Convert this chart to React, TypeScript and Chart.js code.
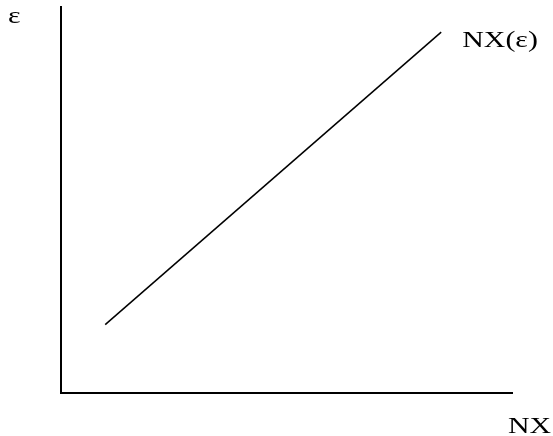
import React, { useEffect, useRef } from "react";
import { Chart, registerables } from "chart.js";

Chart.register(...registerables);

// Net exports as a function of the real exchange rate
const nxValues: number[] = [9.8, 84.3];
const epsValues: number[] = [17.7, 93.5];
const curveLabel = "NX(ε)";
const yAxisLabel = "ε";
const xAxisLabel = "NX";

function stretchedText(ctx: any, text: string, x: number, y: number) {
  ctx.save();
  ctx.translate(x, y);
  ctx.scale(1.3, 1);
  ctx.fillText(text, 0, 0);
  ctx.restore();
}

const labelsPlugin = {
  id: "textLabels",
  afterDraw(chart: any) {
    const ctx = chart.ctx;
    const area = chart.chartArea;
    const xs = chart.scales.x;
    const ys = chart.scales.y;
    ctx.save();
    ctx.fillStyle = "#000";
    ctx.font = '23px "Liberation Serif", "Times New Roman", serif';
    ctx.textBaseline = "alphabetic";
    ctx.textAlign = "left";
    stretchedText(ctx, yAxisLabel, area.left - 53, area.top + 16);
    stretchedText(
      ctx,
      curveLabel,
      xs.getPixelForValue(nxValues[nxValues.length - 1]) + 21,
      ys.getPixelForValue(epsValues[epsValues.length - 1]) + 15
    );
    stretchedText(ctx, xAxisLabel, area.right - 4, area.bottom + 40);
    ctx.restore();
  },
};

export default function App() {
  const ref = useRef<HTMLCanvasElement | null>(null);
  useEffect(() => {
    if (!ref.current) return;
    const chart = new Chart(ref.current, {
      type: "scatter",
      data: {
        datasets: [
          {
            label: curveLabel,
            data: nxValues.map((x, i) => ({ x, y: epsValues[i] })),
            showLine: true,
            borderColor: "#000",
            borderWidth: 1.5,
            pointRadius: 0,
            fill: false,
          },
        ],
      },
      options: {
        animation: false,
        responsive: false,
        layout: { padding: { left: 53, top: 7, right: 41, bottom: 35 } },
        plugins: { legend: { display: false }, tooltip: { enabled: false } },
        scales: {
          x: {
            type: "linear",
            min: 0,
            max: 100,
            grid: { display: false },
            ticks: { display: false },
            border: { display: true, color: "#000", width: 2 },
          },
          y: {
            type: "linear",
            min: 0,
            max: 100,
            grid: { display: false },
            ticks: { display: false },
            border: { display: true, color: "#000", width: 2 },
          },
        },
      },
      plugins: [labelsPlugin],
    });
    return () => chart.destroy();
  }, []);
  return (
    <div style={{ position: "fixed", left: 0, top: 0, width: 553, height: 436, background: "#fff" }}>
      <canvas ref={ref} width={553} height={436} style={{ display: "block" }} />
    </div>
  );
}
